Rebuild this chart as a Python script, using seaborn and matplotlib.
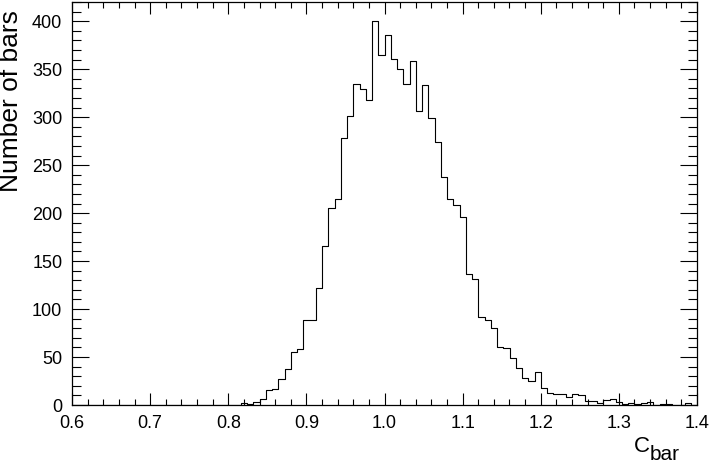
import numpy as np
import pandas as pd
import matplotlib
matplotlib.use("Agg")
import matplotlib.pyplot as plt
import seaborn as sns
from matplotlib.ticker import MultipleLocator, FormatStrFormatter

# histogram of C_bar: 100 bins from 0.6 to 1.4
x_min, x_max, n_bins = 0.6, 1.4, 100
counts = [0] * 27 + [
    2, 1, 3, 6, 16, 17, 27, 37, 55, 58,          # bins 27-36
    89, 89, 122, 166, 205, 215, 278, 301, 335, 329,  # 37-46
    318, 400, 365, 386, 361, 350, 335, 358, 306, 333,  # 47-56
    299, 274, 238, 215, 208, 196, 137, 131, 92, 89,  # 57-66
    80, 60, 59, 49, 39, 28, 25, 34, 18, 12,        # 67-76
    11, 11, 8, 11, 10, 4, 4, 2, 5, 6,              # 77-86
    3, 1, 2, 1, 2, 3, 0, 1, 1, 0,                  # 87-96
    0, 2, 0,                                       # 97-99
]
edges = np.linspace(x_min, x_max, n_bins + 1)
df = pd.DataFrame({"cbar": 0.5 * (edges[:-1] + edges[1:]), "n": counts})

sns.set_style("ticks")
plt.rcParams['font.family'] = ['Liberation Sans', 'DejaVu Sans']
plt.rcParams['text.color'] = 'black'
plt.rcParams['axes.labelcolor'] = 'black'
plt.rcParams['xtick.color'] = 'black'
plt.rcParams['ytick.color'] = 'black'

fig = plt.figure(figsize=(7.12, 4.63), dpi=100)
ax = fig.add_axes([72 / 712, 1 - 405 / 463, 625 / 712, 403 / 463])

sns.histplot(data=df, x="cbar", weights="n", bins=n_bins, binrange=(x_min, x_max),
             element="step", fill=False, color="black", linewidth=0.8, ax=ax)

ax.set_xlim(x_min, x_max)
ax.set_ylim(0, 420)
ax.xaxis.set_major_locator(MultipleLocator(0.1))
ax.xaxis.set_minor_locator(MultipleLocator(0.02))
ax.yaxis.set_major_locator(MultipleLocator(50))
ax.yaxis.set_minor_locator(MultipleLocator(10))
ax.xaxis.set_major_formatter(FormatStrFormatter('%.1f'))

ax.tick_params(axis='x', which='both', direction='in', top=True, bottom=True,
               labelsize=13, pad=7, width=0.8, colors='black')
ax.tick_params(axis='x', which='major', length=8.5)
ax.tick_params(axis='x', which='minor', length=4.3)
ax.tick_params(axis='y', which='both', direction='in', left=True, right=True,
               labelsize=13, pad=7, width=0.8, colors='black')
ax.tick_params(axis='y', which='major', length=12.5)
ax.tick_params(axis='y', which='minor', length=6.3)
for s in ax.spines.values():
    s.set_visible(True)
    s.set_color('black')
    s.set_linewidth(0.9)

ax.set_xlabel('')
ax.set_ylabel('Number of bars', loc='top', fontsize=19)
ax.yaxis.set_label_coords(-0.078, 0.98)

# axis title C_bar, ROOT style with a large subscript
fig.text(650 / 712, 1 - 452 / 463, 'C', fontsize=16, ha='right', va='baseline')
fig.text(650 / 712, 1 - 460 / 463, 'bar', fontsize=15, ha='left', va='baseline')
ax.grid(False)

fig.savefig("out.png", dpi=100)
